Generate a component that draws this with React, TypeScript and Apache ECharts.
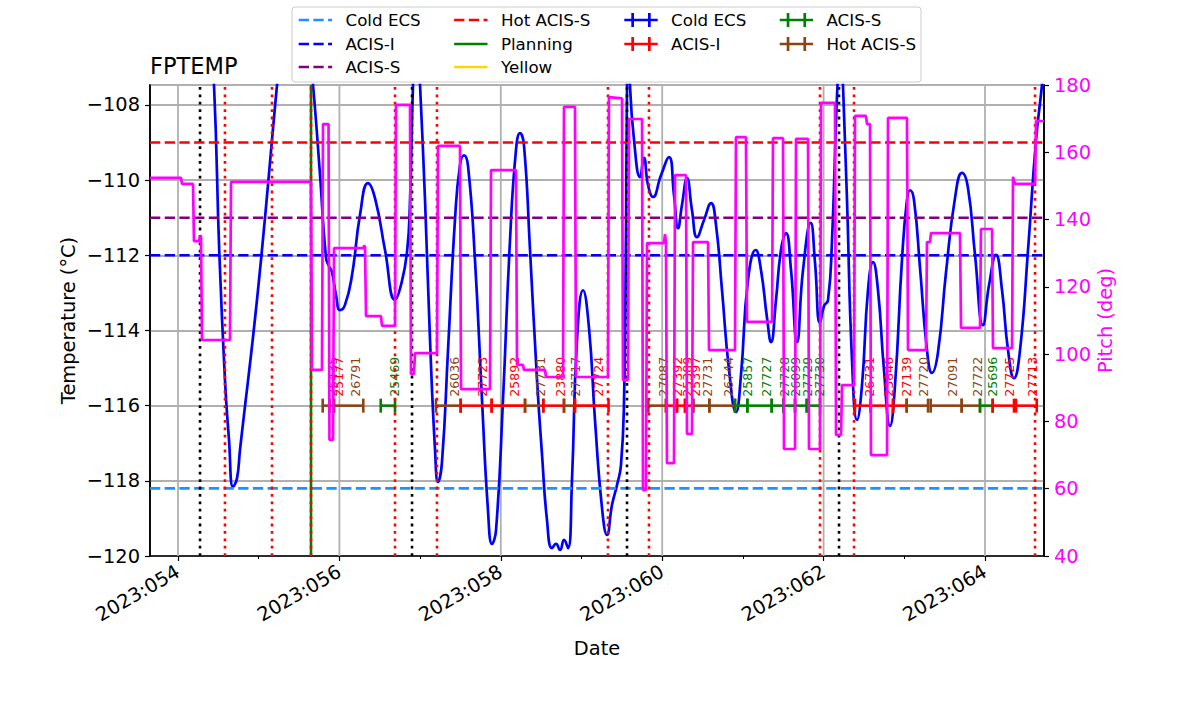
import React, { useEffect, useRef } from 'react';
import * as echarts from 'echarts';

const FONT = 'DejaVu Sans';

// Axis ranges
const X_MIN = 53.653;
const X_MAX = 64.731;
const T_MIN = -120;
const T_MAX = -107.47;
const P_MIN = 40;
const P_MAX = 180;

// Tick values (day of year 2023)
const majorDays = [54, 56, 58, 60, 62, 64];
const minorDays = [55, 57, 59, 61, 63];

// FPTEMP model temperature [day, degC]
const tempPoints: [number, number][] = [
  [53.653, -100.0], [54.087, -101.5], [54.273, -103.5], [54.384, -105.8], [54.446, -107.47],
  [54.512, -111.94], [54.582, -115.32], [54.632, -116.91], [54.682, -118.16], [54.731, -117.93],
  [54.768, -117.18], [54.991, -112.93], [55.227, -107.47], [55.338, -105.0], [55.45, -103.8],
  [55.561, -105.0], [55.673, -107.47], [55.76, -109.87], [55.834, -112.07], [55.871, -112.29],
  [55.908, -112.45], [55.958, -113.06], [56.007, -113.46], [56.069, -113.32], [56.156, -112.53],
  [56.255, -110.93], [56.354, -110.08], [56.441, -110.48], [56.565, -111.86], [56.689, -113.19],
  [56.763, -112.79], [56.838, -111.91], [56.875, -110.53], [56.912, -107.47], [56.955, -105.5],
  [56.999, -107.47], [57.061, -110.53], [57.123, -114.26], [57.185, -117.18], [57.222, -118.03],
  [57.271, -117.5], [57.346, -114.52], [57.432, -111.06], [57.494, -109.6], [57.544, -109.34],
  [57.594, -109.63], [57.68, -112.13], [57.767, -115.85], [57.841, -118.78], [57.891, -119.68],
  [57.941, -119.31], [58.027, -115.85], [58.114, -111.6], [58.188, -109.2], [58.238, -108.75],
  [58.287, -109.07], [58.362, -111.86], [58.449, -115.32], [58.511, -117.31], [58.572, -119.04],
  [58.634, -119.79], [58.684, -119.68], [58.734, -119.84], [58.783, -119.57], [58.833, -119.79],
  [58.882, -117.98], [58.944, -114.26], [59.019, -112.93], [59.093, -113.94], [59.167, -116.38],
  [59.254, -118.72], [59.316, -119.44], [59.378, -118.64], [59.44, -118.11], [59.489, -117.58],
  [59.527, -115.85], [59.551, -111.33], [59.564, -107.47], [59.582, -105.5], [59.601, -107.47],
  [59.651, -108.94], [59.725, -109.92], [59.774, -109.41], [59.824, -110.13], [59.886, -110.45],
  [59.985, -109.87], [60.084, -109.39], [60.146, -110.4], [60.196, -111.28], [60.245, -110.66],
  [60.307, -109.95], [60.369, -110.8], [60.431, -111.52], [60.518, -111.06], [60.605, -110.61],
  [60.667, -111.2], [60.741, -112.93], [60.828, -115.05], [60.914, -116.17], [60.976, -115.19],
  [61.063, -112.66], [61.159, -111.86], [61.224, -112.39], [61.299, -113.67], [61.348, -114.31],
  [61.41, -113.19], [61.472, -111.86], [61.534, -111.41], [61.596, -112.39], [61.67, -114.31],
  [61.745, -112.39], [61.84, -111.14], [61.893, -112.18], [61.955, -113.8], [62.005, -113.35],
  [62.055, -113.19], [62.104, -111.6], [62.154, -108.4], [62.172, -107.47], [62.209, -105.5],
  [62.24, -107.47], [62.29, -110.53], [62.352, -114.79], [62.414, -116.38], [62.476, -115.45],
  [62.55, -112.93], [62.612, -112.18], [62.674, -112.93], [62.748, -115.05], [62.823, -116.54],
  [62.885, -115.45], [62.971, -112.13], [63.033, -110.53], [63.071, -110.27], [63.12, -110.53],
  [63.195, -112.34], [63.281, -114.52], [63.343, -115.13], [63.418, -114.57], [63.517, -112.45],
  [63.628, -110.48], [63.715, -109.81], [63.789, -110.21], [63.876, -111.99], [63.975, -113.86],
  [64.05, -112.79], [64.136, -111.99], [64.211, -112.93], [64.285, -114.52], [64.359, -115.27],
  [64.434, -114.52], [64.533, -111.86], [64.632, -108.94], [64.706, -107.47], [64.731, -106.8],
];

// Pitch [day, deg]
const pitchPoints: [number, number][] = [
  [53.653, 152.4], [54.037, 152.4], [54.05, 150.6], [54.186, 150.6], [54.198, 133.6], [54.26, 133.6],
  [54.273, 135.1], [54.285, 135.1], [54.297, 104.2], [54.644, 104.2], [54.657, 151.2], [55.648, 151.2],
  [55.66, 95.3], [55.784, 95.3], [55.797, 168.4], [55.865, 168.4], [55.877, 74.5], [55.921, 74.5],
  [55.933, 131.5], [56.293, 131.5], [56.305, 132.1], [56.317, 132.1], [56.33, 111.3], [56.515, 111.3],
  [56.528, 108.4], [56.689, 108.4], [56.701, 174.1], [56.875, 174.1], [56.887, 94.1], [56.924, 94.1],
  [56.937, 100.3], [57.209, 100.3], [57.222, 161.9], [57.494, 161.9], [57.507, 89.6], [57.866, 89.6],
  [57.879, 154.7], [58.188, 154.7], [58.201, 96.8], [58.275, 96.8], [58.287, 95.3], [58.548, 95.3],
  [58.56, 93.2], [58.771, 93.2], [58.783, 173.5], [58.919, 173.5], [58.932, 93.2], [59.328, 93.2],
  [59.34, 176.4], [59.502, 176.0], [59.514, 92.3], [59.576, 92.3], [59.589, 169.9], [59.75, 169.9],
  [59.762, 59.6], [59.799, 59.6], [59.812, 133.0], [60.022, 133.0], [60.035, 135.7], [60.047, 133.0],
  [60.059, 67.6], [60.146, 67.6], [60.159, 153.2], [60.295, 153.2], [60.307, 76.3], [60.369, 76.3],
  [60.382, 133.3], [60.568, 133.3], [60.58, 101.2], [60.902, 101.2], [60.914, 164.5], [61.038, 164.5],
  [61.051, 109.6], [61.361, 109.6], [61.373, 164.2], [61.497, 164.2], [61.509, 71.8], [61.646, 71.8],
  [61.658, 164.0], [61.807, 164.0], [61.819, 71.8], [61.955, 71.8], [61.968, 174.7], [62.141, 174.7],
  [62.154, 76.0], [62.216, 76.0], [62.228, 90.8], [62.377, 90.8], [62.389, 170.8], [62.525, 170.8],
  [62.538, 168.4], [62.575, 168.4], [62.587, 70.0], [62.786, 70.0], [62.798, 170.2], [63.033, 170.2],
  [63.046, 101.2], [63.269, 101.2], [63.281, 133.3], [63.318, 133.3], [63.331, 136.0], [63.69, 136.0],
  [63.703, 107.8], [63.938, 107.8], [63.95, 137.2], [64.087, 137.2], [64.099, 101.8], [64.335, 101.8],
  [64.347, 152.7], [64.372, 150.6], [64.62, 150.6], [64.632, 169.3], [64.731, 169.3],
];

// Limit lines
const limitNames = ['Cold ECS', 'ACIS-I', 'ACIS-S', 'Hot ACIS-S', 'Planning', 'Yellow'];
const limitColors = ['#1e90ff', '#0000ff', '#800080', '#ff0000', '#008000', '#ffd700'];
const limitValues = [-118.2, -112.0, -111.0, -109.0];

// Observations
const obsTypeNames = ['Cold ECS', 'ACIS-I', 'ACIS-S', 'Hot ACIS-S'];
const obsTypeColors = ['#0000ff', '#ff0000', '#008000', '#8b4513'];
const obsLevel = -116;
const obsIds = [
  '25435', '25177', '26791', '25469', '26036', '27723', '25892', '27731', '23880', '27717', '27724',
  '27087', '27392', '25389', '25397', '27731', '26744', '25857', '27727', '27728', '26099', '27729',
  '27730', '26731', '23846', '27139', '27720', '27091', '27722', '25696', '27725', '27713',
];
const obsStart = [
  55.793, 55.875, 55.933, 56.512, 57.197, 57.503, 57.887, 58.3, 58.527, 58.783, 58.919,
  59.828, 60.047, 60.183, 60.283, 60.385, 60.584, 60.902, 61.055, 61.357, 61.501, 61.646,
  61.791, 62.389, 62.584, 62.86, 63.03, 63.327, 63.711, 63.938, 64.095, 64.384,
];
const obsStop = [
  55.875, 55.933, 56.296, 56.689, 57.503, 57.887, 58.3, 58.527, 58.783, 58.919, 59.335,
  60.047, 60.183, 60.283, 60.385, 60.584, 60.902, 61.055, 61.357, 61.501, 61.646, 61.791,
  61.955, 62.584, 62.86, 63.03, 63.294, 63.711, 63.938, 64.095, 64.359, 64.641,
];
const obsType = [
  3, 1, 3, 2, 3, 1, 1, 3, 1, 3, 1,
  3, 1, 1, 1, 3, 3, 2, 2, 2, 2, 2,
  2, 1, 1, 1, 3, 3, 3, 2, 1, 1,
];

// Vertical event lines
const greenEventDays = [55.648];
const redEventDays = [54.582, 55.165, 55.648, 56.689, 57.209, 59.328, 59.836, 61.955, 62.377, 64.62];
const blackEventDays = [54.273, 56.9, 59.564, 62.191];

function minusFmt(v: number) {
  return (v < 0 ? '\u2212' : '') + Math.abs(v);
}

const TICK_FS = 19.4;
const LABEL_FS = 19.4;

function buildOption() {
  const vLine = (d: number, color: string, type: any, z: number) => ({
    type: 'line',
    xAxisIndex: 0,
    yAxisIndex: 0,
    data: [[d, T_MIN], [d, T_MAX]],
    symbol: 'none',
    silent: true,
    z,
    lineStyle: { color, width: 2.6, type },
  });

  const series: any[] = [];

  majorDays.forEach((d) => {
    series.push({
      type: 'line', data: [[d, T_MIN], [d, T_MAX]], symbol: 'none', silent: true, z: 1,
      lineStyle: { color: '#b0b0b0', width: 1.8 },
    });
  });

  series.push({
    type: 'line',
    name: 'FPTEMP',
    data: tempPoints,
    symbol: 'none',
    smooth: 0.5,
    clip: true,
    z: 3,
    lineStyle: { color: '#0000ff', width: 2.7 },
  });

  limitValues.forEach((v, i) => {
    series.push({
      type: 'line', name: limitNames[i], data: [[X_MIN, v], [X_MAX, v]], symbol: 'none', silent: true, z: 4,
      lineStyle: { color: limitColors[i], width: 2.6, type: [10.3, 4.4] },
    });
  });

  series.push({
    type: 'custom',
    name: 'obs',
    xAxisIndex: 0,
    yAxisIndex: 0,
    clip: true,
    z: 5,
    encode: { x: [0, 1], y: 2 },
    data: obsIds.map((id, i) => ({ name: id, value: [obsStart[i], obsStop[i], obsLevel, obsType[i]] })),
    renderItem: (params: any, api: any) => {
      const s = api.coord([api.value(0), api.value(2)]);
      const e = api.coord([api.value(1), api.value(2)]);
      const color = obsTypeColors[api.value(3)];
      const mid = (s[0] + e[0]) / 2;
      const cap = 7;
      return {
        type: 'group',
        children: [
          { type: 'line', shape: { x1: s[0], y1: s[1], x2: e[0], y2: e[1] }, style: { stroke: color, lineWidth: 2.6 } },
          { type: 'line', shape: { x1: s[0], y1: s[1] - cap, x2: s[0], y2: s[1] + cap }, style: { stroke: color, lineWidth: 2.6 } },
          { type: 'line', shape: { x1: e[0], y1: e[1] - cap, x2: e[0], y2: e[1] + cap }, style: { stroke: color, lineWidth: 2.6 } },
          {
            type: 'text',
            x: mid,
            y: s[1] - 9,
            rotation: Math.PI / 2,
            style: {
              text: obsIds[params.dataIndex],
              fill: color,
              fontSize: 12.5,
              fontFamily: FONT,
              align: 'left',
              verticalAlign: 'top',
              textAlign: 'left',
              textVerticalAlign: 'top',
            },
          },
        ],
      };
    },
  });

  greenEventDays.forEach((d) => series.push(vLine(d, '#008000', 'solid', 6)));
  redEventDays.forEach((d) => series.push(vLine(d, '#ff0000', [2.8, 4.6], 7)));
  blackEventDays.forEach((d) => series.push(vLine(d, '#000000', [2.8, 4.6], 7)));

  series.push({
    type: 'line',
    name: 'Pitch',
    xAxisIndex: 0,
    yAxisIndex: 1,
    data: pitchPoints,
    symbol: 'none',
    clip: true,
    z: 8,
    lineStyle: { color: '#ff00ff', width: 2.7 },
  });

  // Legend graphics
  const colX = [298.7, 454.1, 624.3, 779.7];
  const rowY = [20, 44, 67];
  const handleLen = 33.4;
  const legendChildren: any[] = [
    {
      type: 'rect',
      shape: { x: 292, y: 7, width: 629, height: 75, r: 3 },
      style: { fill: 'rgba(255,255,255,0.8)', stroke: '#cccccc', lineWidth: 1 },
    },
  ];
  const entries: { name: string; color: string; kind: string }[] = [];
  limitNames.forEach((n, i) => entries.push({ name: n, color: limitColors[i], kind: i < 4 ? 'dash' : 'solid' }));
  obsTypeNames.forEach((n, i) => entries.push({ name: n, color: obsTypeColors[i], kind: 'err' }));
  entries.forEach((en, i) => {
    const col = i < 3 ? 0 : i < 6 ? 1 : i < 8 ? 2 : 3;
    const row = i < 6 ? i % 3 : (i - 6) % 2;
    const x0 = colX[col];
    const y = rowY[row];
    const x1 = x0 + handleLen;
    const lineStyle: any = { stroke: en.color, lineWidth: 2.7 };
    if (en.kind === 'dash') lineStyle.lineDash = [10.3, 4.4];
    legendChildren.push({ type: 'line', shape: { x1: x0, y1: y, x2: x1, y2: y }, style: lineStyle });
    if (en.kind === 'err') {
      const c = (x0 + x1) / 2;
      [c - 8.35, c + 8.35].forEach((cx) => {
        legendChildren.push({
          type: 'line', shape: { x1: cx, y1: y - 7, x2: cx, y2: y + 7 }, style: { stroke: en.color, lineWidth: 2.7 },
        });
      });
    }
    legendChildren.push({
      type: 'text',
      x: x1 + 13.4,
      y,
      style: {
        text: en.name, fontSize: 16.7, fontFamily: FONT, fill: '#000',
        align: 'left', verticalAlign: 'middle', textAlign: 'left', textVerticalAlign: 'middle',
      },
    });
  });

  const txt = (text: string, x: number, y: number, size: number, color: string, rot: number, align = 'center') => ({
    type: 'text',
    x,
    y,
    rotation: rot,
    style: {
      text, fontSize: size, fontFamily: FONT, fill: color,
      align, verticalAlign: 'middle', textAlign: align, textVerticalAlign: 'middle',
    },
  });

  return {
    animation: false,
    backgroundColor: '#ffffff',
    textStyle: { fontFamily: FONT },
    grid: {
      left: 150, right: 156, top: 85, bottom: 158,
      show: true, borderColor: '#000', borderWidth: 1.6, backgroundColor: 'rgba(0,0,0,0)',
    },
    xAxis: [
      {
        type: 'value', min: X_MIN, max: X_MAX, position: 'bottom',
        axisLine: { show: true, onZero: false, lineStyle: { color: '#000', width: 1.6 } },
        axisTick: { show: true, length: 5, customValues: majorDays, lineStyle: { color: '#000', width: 1.2 } },
        axisLabel: {
          show: true, customValues: majorDays, rotate: 30, margin: 14,
          fontSize: TICK_FS, fontFamily: FONT, color: '#000',
          formatter: (v: number) => '2023:' + String(Math.round(v)).padStart(3, '0'),
        },
        splitLine: { show: false },
      },
      {
        type: 'value', min: X_MIN, max: X_MAX, position: 'bottom',
        axisLine: { show: false, onZero: false },
        axisTick: { show: true, length: 3, customValues: minorDays, lineStyle: { color: '#000', width: 1 } },
        axisLabel: { show: false },
        splitLine: { show: false },
      },
    ],
    yAxis: [
      {
        type: 'value', min: T_MIN, max: T_MAX, interval: 2, position: 'left',
        axisLine: { show: true, onZero: false, lineStyle: { color: '#000', width: 1.6 } },
        axisTick: { show: true, length: 5, lineStyle: { color: '#000', width: 1.2 } },
        axisLabel: {
          margin: 10, fontSize: TICK_FS, fontFamily: FONT, color: '#000', showMaxLabel: false,
          formatter: (v: number) => minusFmt(v),
        },
        splitLine: { show: true, lineStyle: { color: '#b0b0b0', width: 1.8 } },
      },
      {
        type: 'value', min: P_MIN, max: P_MAX, interval: 20, position: 'right',
        axisLine: { show: true, onZero: false, lineStyle: { color: '#000', width: 1.6 } },
        axisTick: { show: true, length: 5, lineStyle: { color: '#000', width: 1.2 } },
        axisLabel: { margin: 10, fontSize: TICK_FS, fontFamily: FONT, color: '#ff00ff' },
        splitLine: { show: false },
      },
    ],
    graphic: [
      ...legendChildren,
      txt('FPTEMP', 150, 65.5, 22.5, '#000', 0, 'left'),
      txt('Temperature (\u00b0C)', 68, 320.5, LABEL_FS, '#000', Math.PI / 2),
      txt('Pitch (deg)', 1105, 320.5, LABEL_FS, '#ff00ff', Math.PI / 2),
      txt('Date', 597, 648, LABEL_FS, '#000', 0),
    ],
    series,
  };
}

export default function App() {
  const ref = useRef<HTMLDivElement>(null);
  useEffect(() => {
    if (!ref.current) return;
    const chart = echarts.init(ref.current, undefined, { renderer: 'svg' });
    chart.setOption(buildOption() as any);
    return () => chart.dispose();
  }, []);
  return (
    <div
      ref={ref}
      style={{ position: 'absolute', left: 0, top: 0, width: 1200, height: 714, background: '#fff' }}
    />
  );
}
